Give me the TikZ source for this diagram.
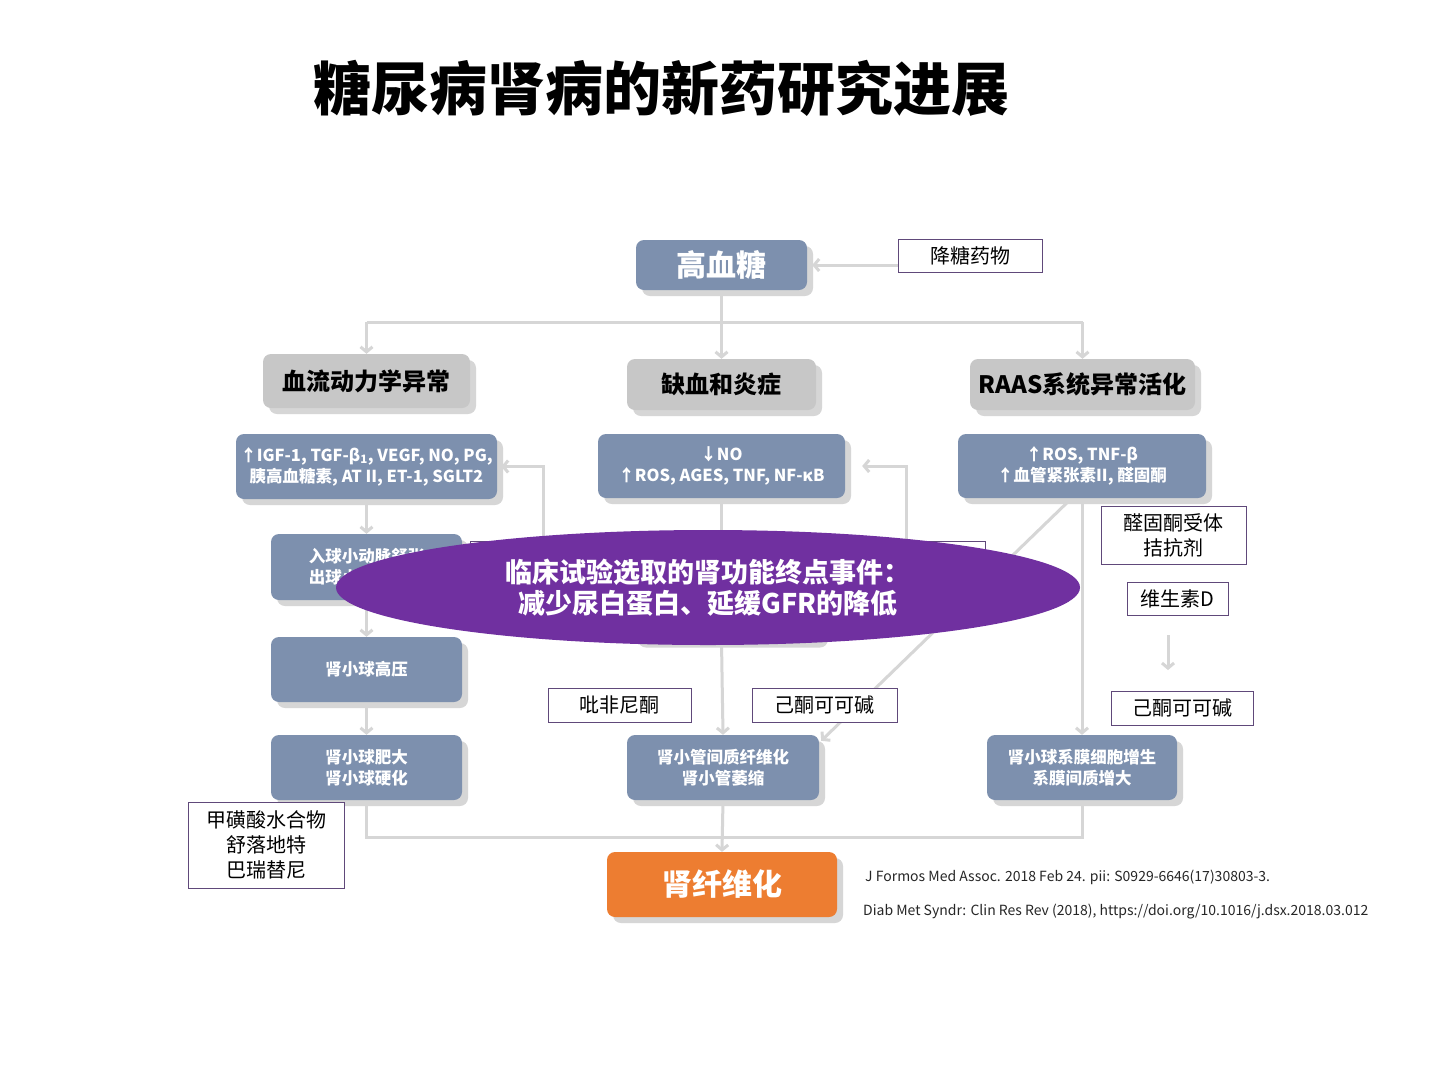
\documentclass[tikz,border=0pt]{standalone}
\usepackage{fontspec}
\setmainfont{Noto Sans CJK SC}
\usetikzlibrary{arrows.meta,shadows,shapes.geometric}
\definecolor{boxblue}{RGB}{125,144,174}
\definecolor{boxgray}{RGB}{199,199,199}
\definecolor{boxorange}{RGB}{237,125,49}
\definecolor{ellpurple}{RGB}{112,48,160}
\definecolor{labelpurple}{RGB}{96,73,122}
\definecolor{shadowgray}{RGB}{214,214,214}
\definecolor{linegray}{RGB}{214,214,214}
\definecolor{citegray}{RGB}{38,38,38}
\pgfdeclarelayer{paper}
\pgfdeclarelayer{bg}
\pgfsetlayers{paper,bg,main}
\begin{document}
\begin{tikzpicture}[x=1pt,y=-1pt,
  boxbase/.style={rectangle, rounded corners=8pt, align=center, inner sep=2pt,
    drop shadow={shadow xshift=6pt, shadow yshift=-6pt, fill=shadowgray, opacity=1}},
  bluebox/.style={boxbase, fill=boxblue, text=white, font=\bfseries\fontsize{16.5}{21}\selectfont},
  graybox/.style={boxbase, fill=boxgray, text=black, font=\bfseries\fontsize{24}{28}\selectfont},
  orangebox/.style={boxbase, fill=boxorange, text=white, font=\bfseries\fontsize{30}{34}\selectfont},
  drugbox/.style={rectangle, draw=labelpurple, line width=1pt, fill=white, text=black,
    align=center, inner sep=0pt, font=\fontsize{20}{25}\selectfont},
  arr/.style={draw=linegray, line width=3pt, -{Straight Barb[length=5pt,width=12pt]}},
  conn/.style={draw=linegray, line width=3pt},
  cite/.style={anchor=west, text=citegray, font=\fontsize{14}{17}\selectfont, inner sep=0pt}
]
\useasboundingbox (0,0) rectangle (1440,1080);
\begin{pgfonlayer}{paper}
\fill[white] (0,0) rectangle (1440,1080);
\end{pgfonlayer}

% title
\node[font=\bfseries\fontsize{58}{64}\selectfont] (title) at (661,88) {糖尿病肾病的新药研究进展};

% top
\node[bluebox, minimum width=171pt, minimum height=50pt, font=\bfseries\fontsize{30}{34}\selectfont] (gao) at (721.5,265) {高血糖};
\node[drugbox, minimum width=144pt, minimum height=33pt] (jiangtang) at (970,255.5) {降糖药物};

% level 1
\node[graybox, minimum width=207pt, minimum height=54pt] (A) at (366.5,381) {血流动力学异常};
\node[graybox, minimum width=189pt, minimum height=51pt] (B) at (721.5,384.5) {缺血和炎症};
\node[graybox, minimum width=225pt, minimum height=51pt] (C) at (1082.5,384.5) {RAAS系统异常活化};

% level 2
\node[bluebox, minimum width=261pt, minimum height=65pt] (A2) at (366.5,466.5) {↑IGF-1, TGF-β\textsubscript{1}, VEGF, NO, PG,\\胰高血糖素, AT II, ET-1, SGLT2};
\node[bluebox, minimum width=247pt, minimum height=64pt] (B2) at (721.5,466) {↓NO\\↑ROS, AGES, TNF, NF-κB};
\node[bluebox, minimum width=248pt, minimum height=64pt] (C2) at (1082,466) {↑ROS, TNF-β\\↑血管紧张素II, 醛固酮};

% left column
\node[bluebox, minimum width=191pt, minimum height=66pt] (A3) at (366.5,567) {入球小动脉舒张\\出球小动脉收缩};
\node[bluebox, minimum width=191pt, minimum height=65pt] (A4) at (366.5,669.5) {肾小球高压};
\node[bluebox, minimum width=191pt, minimum height=65pt] (A5) at (366.5,767.5) {肾小球肥大\\肾小球硬化};

% middle column
\node[bluebox, minimum width=190pt, minimum height=65pt] (Bh) at (727,609) {};
\node[bluebox, minimum width=192pt, minimum height=65pt] (B5) at (723,767.5) {肾小管间质纤维化\\肾小管萎缩};

% right column
\node[bluebox, minimum width=190pt, minimum height=65pt] (C5) at (1082,767.5) {肾小球系膜细胞增生\\系膜间质增大};

% final
\node[orangebox, minimum width=230pt, minimum height=65pt] (F) at (722,884.5) {肾纤维化};

% drug labels
\node[drugbox, minimum width=145pt, minimum height=58pt] (L1) at (1173.5,535) {醛固酮受体\\拮抗剂};
\node[drugbox, minimum width=101pt, minimum height=33pt] (L2) at (1177.5,598.5) {维生素D};
\node[drugbox, minimum width=142pt, minimum height=34pt] (L3) at (1182,708) {己酮可可碱};
\node[drugbox, minimum width=143pt, minimum height=34pt] (L4) at (619.5,705) {吡非尼酮};
\node[drugbox, minimum width=145pt, minimum height=34pt] (L5) at (824.5,705) {己酮可可碱};
\node[drugbox, minimum width=156pt, minimum height=86pt] (L6) at (266,845) {甲磺酸水合物\\舒落地特\\巴瑞替尼};
\node[drugbox, minimum width=515pt, minimum height=79pt] (Lh) at (727.5,580.5) {};

% citations
\node[cite] (cite1) at (865,877) {J Formos Med Assoc. 2018 Feb 24. pii: S0929-6646(17)30803-3.};
\node[cite] (cite2) at (863,912) {Diab Met Syndr: Clin Res Rev (2018), https://doi.org/10.1016/j.dsx.2018.03.012};

% ellipse
\node[ellipse, fill=ellpurple, minimum width=744pt, minimum height=115pt, inner sep=0pt,
  text=white, align=center, font=\bfseries\fontsize{27}{31}\selectfont] (E) at (708,587.5)
  {临床试验选取的肾功能终点事件：\\减少尿白蛋白、延缓GFR的降低};

\coordinate (sp) at (721.5,322);
\coordinate (fa) at (543,560);
\coordinate (fb) at (906,560);
\coordinate (v1) at (1168,635);
\coordinate (v2) at (1168,670);
\coordinate (bot) at (721.5,837);

\begin{pgfonlayer}{bg}
  \draw[arr] (jiangtang.west |- gao.east) -- ([xshift=5pt]gao.east);
  \draw[arr] (gao.south) -- (B.north);
  \draw[conn] (sp -| A.north) -- (sp -| C.north);
  \draw[arr] (sp -| A.north) -- (A.north);
  \draw[arr] (sp -| C.north) -- (C.north);
  \draw[arr] (A2.south) -- (A3.north);
  \draw[arr] (A3.south) -- (A4.north);
  \draw[arr] (A4.south) -- (A5.north);
  \draw[conn] (B2.south) -- (B2.south |- Bh.north);
  \draw[arr] (B2.south |- Bh.south) -- (B5.north);
  \draw[arr] (C2.south) -- (C5.north);
  \draw[arr] ([yshift=10pt]C2.south) -- ([xshift=2pt,yshift=-6pt]B5.north east);
  \draw[arr] (fa) |- ([xshift=4pt]A2.east);
  \draw[arr] (fb) |- ([xshift=17pt]B2.east);
  \draw[arr] (v1) -- (v2);
  \draw[conn] (A5.south) -- (A5.south |- bot) -- (C5.south |- bot) -- (C5.south);
  \draw[arr] (B5.south) -- (F.north);
\end{pgfonlayer}
\end{tikzpicture}
\end{document}
